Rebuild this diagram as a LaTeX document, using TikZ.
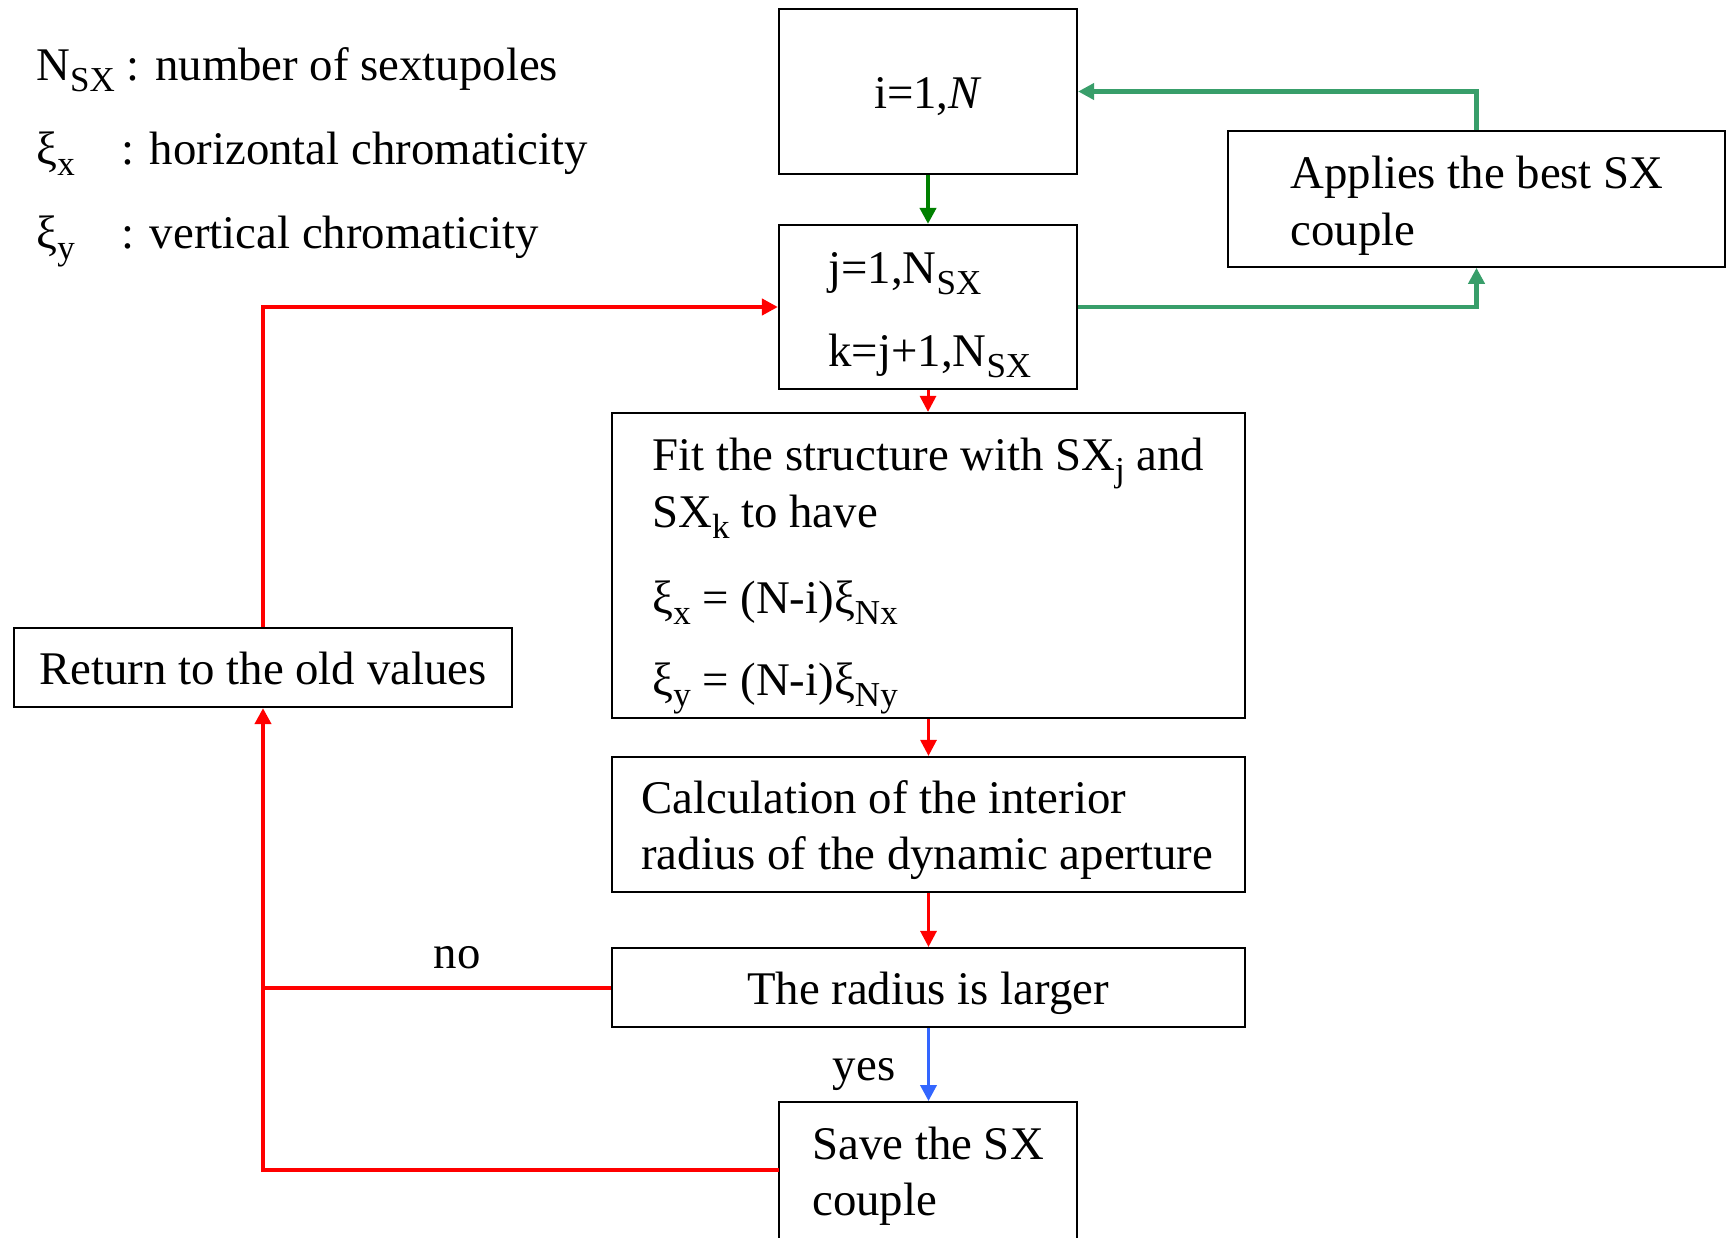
\documentclass[tikz,border=0pt]{standalone}
\usepackage{fontspec}
\setmainfont{Liberation Serif}
\usetikzlibrary{arrows.meta}
\definecolor{fgreen}{RGB}{0,128,0}
\definecolor{lgreen}{RGB}{56,158,106}
\definecolor{fblue}{RGB}{51,102,255}
\definecolor{fred}{RGB}{255,0,0}
\newcommand\sbs[1]{\raisebox{-0.24em}{\fontsize{17.5}{17.5}\selectfont #1}}
\begin{document}
\begin{tikzpicture}[x=0.5pt,y=-0.5pt,
  box/.style={draw=black,line width=1.1pt,inner sep=0pt},
  txt/.style={inner sep=0pt,font=\fontsize{23.4}{28}\selectfont},
  tip/.style={-{Triangle[length=8pt,width=8pt]}},
  redloop/.style={draw=fred,line width=2.1pt},
  redarr/.style={draw=fred,line width=1.5pt,tip},
  greenloop/.style={draw=lgreen,line width=2.1pt,tip},
  darkgreen/.style={draw=fgreen,line width=2pt,tip},
  bluearr/.style={draw=fblue,line width=1.75pt,tip}]
\clip (0,0) rectangle (1727,1237);
\fill[white] (0,0) rectangle (1727,1237);
% boxes
\node[box,minimum width=149pt,minimum height=82.5pt] (b1) at (928,91.5) {};
\node[box,minimum width=149pt,minimum height=82pt] (b2) at (928,307) {};
\node[box,minimum width=248.5pt,minimum height=67.85pt] (app) at (1476.5,198.9) {};
\node[box,minimum width=316.5pt,minimum height=152.5pt] (fit) at (928.5,565.5) {};
\node[box,minimum width=316.5pt,minimum height=67.5pt] (calc) at (928.5,824.5) {};
\node[box,minimum width=316.5pt,minimum height=39.65pt] (rad) at (928.5,987.7) {};
\node[box,minimum width=149pt,minimum height=98.85pt] (save) at (928,1201) {};
\node[box,minimum width=249pt,minimum height=39.5pt] (ret) at (263,667.5) {};
% legend
\node[txt,anchor=base west] (l1) at (36,80) {N\sbs{SX} : number of sextupoles};
\node[txt,anchor=base west] (l2a) at (36,164) {ξ\sbs{x}};
\node[txt,anchor=base west] (l2b) at (121,164) {: horizontal chromaticity};
\node[txt,anchor=base west] (l3a) at (36,248) {ξ\sbs{y}};
\node[txt,anchor=base west] (l3b) at (121,248) {: vertical chromaticity};
% box texts
\node[txt,anchor=base] (t1) at (928,108) {i=1,\textit{N}};
\node[txt,anchor=base west] (t2a) at (828,283) {j=1,N\sbs{SX}};
\node[txt,anchor=base west] (t2b) at (828,366) {k=j+1,N\sbs{SX}};
\node[txt,anchor=base west] (ta1) at (1290,188) {Applies the best SX};
\node[txt,anchor=base west] (ta2) at (1290,245) {couple};
\node[txt,anchor=base west] (tf1) at (652,470) {Fit the structure with SX\sbs{j} and};
\node[txt,anchor=base west] (tf2) at (652,527) {SX\sbs{k} to have};
\node[txt,anchor=base west] (tf3) at (652,613) {ξ\sbs{x} = (N-i)ξ\sbs{Nx}};
\node[txt,anchor=base west] (tf4) at (652,695) {ξ\sbs{y} = (N-i)ξ\sbs{Ny}};
\node[txt,anchor=base west] (tc1) at (641,813) {Calculation of the interior};
\node[txt,anchor=base west] (tc2) at (641,869) {radius of the dynamic aperture};
\node[txt,anchor=base] (tr) at (928,1004) {The radius is larger};
\node[txt,anchor=base] (tret) at (263,684) {Return to the old values};
\node[txt,anchor=base west] (ts1) at (812,1159) {Save the SX};
\node[txt,anchor=base west] (ts2) at (812,1215) {couple};
\node[txt,anchor=base] (tno) at (457,968) {no};
\node[txt,anchor=base] (tyes) at (864,1080) {yes};
% connectors
\coordinate (svl) at (779,1170);
\draw[darkgreen] (b1.south) -- (b2.north);
\draw[redarr] (b2.south) -- (b2.south |- fit.north);
\draw[redarr] (fit.south) -- (calc.north);
\draw[redarr] (calc.south) -- (rad.north);
\draw[bluearr] (rad.south) -- (rad.south |- save.north);
\draw[redloop] (rad.west) -- (ret.south |- rad.west);
\draw[redloop,tip] (svl) -| (ret.south);
\draw[redloop,tip] (ret.north) |- (b2.west);
\draw[greenloop] (b2.east) -| (app.south);
\draw[greenloop] (app.north) |- (b1.east);
\end{tikzpicture}
\end{document}
